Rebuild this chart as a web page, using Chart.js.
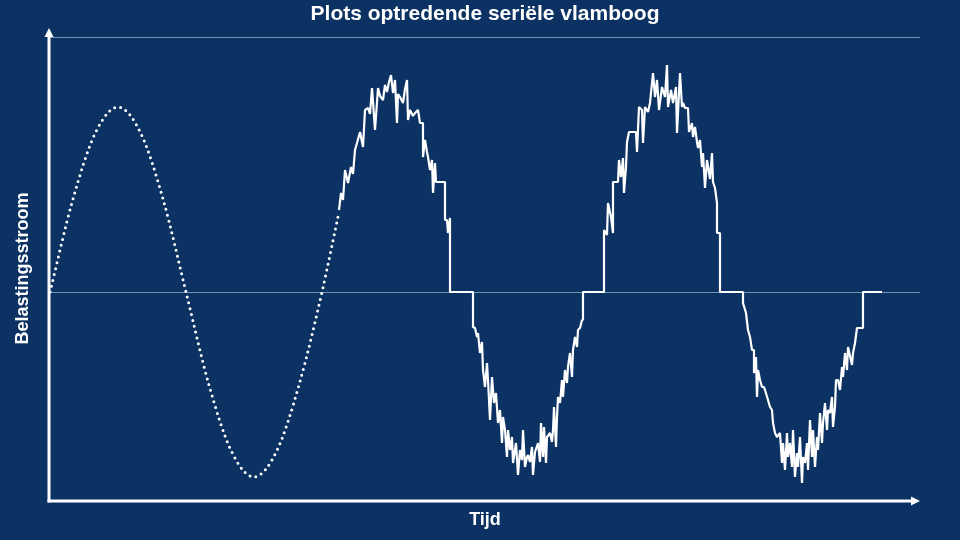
<!DOCTYPE html>
<html lang="nl">
<head>
    <meta charset="UTF-8">
    <title>Plots optredende seriële vlamboog</title>
    <script src="https://cdn.jsdelivr.net/npm/chart.js"></script>
    <style>
        body {
            margin: 0;
            background-color: #0b3262;
        }
        #wrap {
            width: 960px;
            height: 540px;
        }
    </style>
</head>
<body>
    <div id="wrap">
        <canvas id="arcChart"></canvas>
    </div>

    <script>
        // Tijd in samples vanaf de oorsprong, stroom in ruwe meetwaarden
        // Ongestoorde sinus (gestippeld) tot de vlamboog begint
        const sineTime = [
            0, 22.7, 45.3, 68, 90.7, 113.3, 136, 158.7, 181.3, 204, 226.7, 249.3,
            272, 289
        ];
        const sineCurrent = [
            0, 92, 159, 185, 159, 92, 0, -92, -159, -185, -159, -92,
            0, 80
        ];

        // Stroom met seriële vlamboog
        const arcTime = [
            // tweede periode, positief
            289, 291, 293, 295, 298, 301, 303, 305, 307, 310, 313, 315, 318, 320, 322, 325,
            328, 330, 333, 335, 337, 339, 341, 343, 345, 347, 348, 350, 353, 355, 357, 358,
            360, 363, 365, 368, 370, 373, 373, 375, 377, 378, 380, 382, 383, 385, 386, 395,
            395, 397, 398, 400, 400, 423,
            // tweede periode, negatief
            423, 425, 427, 428, 430, 432, 433, 435, 437, 438, 440, 442, 444, 446, 448, 450,
            452, 453, 455, 457, 458, 460, 462, 463, 466, 468, 470, 472, 473, 475, 477, 478,
            480, 482, 483, 485, 488, 490, 491, 493, 494, 496, 497, 500, 502, 503, 504, 506,
            507, 508, 510, 512, 513, 515, 517, 518, 520, 522, 523, 525, 527, 528, 530, 532,
            533, 533, 554,
            // derde periode, positief
            554, 557, 558, 561, 563, 563, 568, 569, 571, 573, 574, 576, 577, 579, 586, 587,
            589, 592, 593, 595, 598, 600, 603, 605, 607, 609, 612, 615, 617, 618, 621, 623,
            626, 627, 630, 632, 633, 635, 638, 639, 642, 643, 645, 647, 648, 650, 652, 653,
            655, 657, 660, 662, 663, 665, 667, 667, 670, 670, 693,
            // derde periode, negatief
            693, 696, 698, 700, 702, 704, 704, 706, 707, 708, 710, 712, 714, 715, 718, 720,
            722, 723, 725, 727, 730, 732, 733, 735, 737, 738, 740, 742, 743, 745, 747, 748,
            750, 752, 753, 755, 757, 758, 760, 762, 763, 765, 767, 768, 770, 772, 773, 775,
            777, 778, 780, 782, 783, 785, 786, 788, 790, 792, 793, 795, 797, 798, 802, 803,
            805, 807, 813, 813, 832
        ];
        const arcCurrent = [
            82, 99, 92, 122, 109, 125, 118, 142, 149, 160, 145, 182, 184, 178, 204, 162,
            204, 196, 192, 207, 200, 210, 217, 199, 212, 169, 198, 195, 189, 203, 212, 172,
            182, 176, 179, 182, 169, 169, 135, 152, 140, 135, 122, 132, 99, 129, 110, 110,
            72, 72, 59, 74, 0, 0,
            -35, -36, -45, -41, -61, -50, -78, -95, -71, -88, -128, -85, -111, -101, -131, -118,
            -151, -125, -138, -165, -138, -158, -145, -171, -151, -183, -158, -168, -138, -175, -165, -163,
            -170, -155, -183, -160, -151, -170, -131, -165, -135, -171, -145, -141, -150, -138, -115, -155,
            -125, -105, -111, -88, -105, -78, -91, -75, -61, -85, -58, -45, -55, -38, -36, -28,
            -28, 0, 0,
            62, 57, 89, 75, 59, 110, 110, 132, 115, 134, 99, 125, 150, 160, 160, 140,
            185, 182, 149, 185, 180, 189, 219, 195, 212, 182, 205, 195, 227, 185, 202, 189,
            205, 159, 219, 185, 189, 184, 184, 160, 169, 155, 165, 150, 144, 152, 125, 139,
            104, 132, 113, 139, 110, 104, 89, 59, 59, 0, 0,
            -11, -21, -38, -45, -58, -58, -81, -65, -105, -78, -88, -95, -95, -98, -108, -115,
            -118, -131, -141, -145, -141, -171, -151, -178, -141, -165, -151, -175, -138, -185, -161, -175,
            -145, -191, -165, -171, -151, -178, -128, -165, -138, -175, -145, -158, -121, -151, -131, -111,
            -138, -118, -121, -105, -135, -115, -88, -88, -98, -75, -85, -61, -78, -55, -73, -61,
            -51, -36, -36, 0, 0
        ];

        // Horizontale hulplijnen: nullijn en bovenrand
        const gridValues = [0, 255];

        const bgColor = '#0b3262';
        const fontFamily = '"Liberation Sans", Arial, sans-serif';

        function toPoints(xs, ys) {
            return xs.map((x, i) => ({ x: x, y: ys[i] }));
        }

        // Achtergrond van het hele canvas
        const backgroundPlugin = {
            id: 'background',
            beforeDraw(chart) {
                const ctx = chart.ctx;
                ctx.save();
                ctx.fillStyle = bgColor;
                ctx.fillRect(0, 0, chart.width, chart.height);
                ctx.restore();
            }
        };

        // Assen met pijlpunten
        const arrowAxesPlugin = {
            id: 'arrowAxes',
            afterDatasetsDraw(chart) {
                const { ctx, chartArea } = chart;
                const x0 = chartArea.left - 1;
                const y0 = chartArea.bottom + 1;
                ctx.save();
                ctx.strokeStyle = '#ffffff';
                ctx.fillStyle = '#ffffff';
                ctx.lineWidth = 3;

                ctx.beginPath();
                ctx.moveTo(x0, y0 + 1.5);
                ctx.lineTo(x0, chartArea.top - 1);
                ctx.stroke();
                ctx.beginPath();
                ctx.moveTo(x0, chartArea.top - 9);
                ctx.lineTo(x0 - 4.5, chartArea.top);
                ctx.lineTo(x0 + 4.5, chartArea.top);
                ctx.closePath();
                ctx.fill();

                ctx.beginPath();
                ctx.moveTo(x0 - 1.5, y0);
                ctx.lineTo(chartArea.right - 8, y0);
                ctx.stroke();
                ctx.beginPath();
                ctx.moveTo(chartArea.right, y0);
                ctx.lineTo(chartArea.right - 9, y0 - 4.5);
                ctx.lineTo(chartArea.right - 9, y0 + 4.5);
                ctx.closePath();
                ctx.fill();
                ctx.restore();
            }
        };

        const ctx = document.getElementById('arcChart').getContext('2d');
        new Chart(ctx, {
            type: 'line',
            data: {
                datasets: [
                    {
                        label: 'Sinus',
                        data: toPoints(sineTime, sineCurrent),
                        borderColor: '#ffffff',
                        borderWidth: 3,
                        borderDash: [0, 6],
                        borderCapStyle: 'round',
                        cubicInterpolationMode: 'monotone',
                        pointRadius: 0,
                        fill: false
                    },
                    {
                        label: 'Vlamboog',
                        data: toPoints(arcTime, arcCurrent),
                        borderColor: '#ffffff',
                        borderWidth: 2.2,
                        borderJoinStyle: 'bevel',
                        tension: 0,
                        pointRadius: 0,
                        fill: false
                    }
                ]
            },
            options: {
                responsive: true,
                maintainAspectRatio: false,
                animation: false,
                layout: {
                    padding: { top: 2, right: 40, bottom: 0, left: 0 }
                },
                scales: {
                    x: {
                        type: 'linear',
                        min: 0,
                        max: 870,
                        grid: { display: false, drawTicks: false },
                        border: { display: false },
                        ticks: { display: false },
                        title: {
                            display: true,
                            text: 'Tijd',
                            color: '#ffffff',
                            font: { family: fontFamily, size: 18, weight: 'bold' },
                            padding: { top: 9.2, bottom: 9.2 }
                        }
                    },
                    y: {
                        min: -208,
                        max: 255,
                        afterBuildTicks(scale) {
                            scale.ticks = gridValues.map(v => ({ value: v }));
                        },
                        grid: {
                            display: true,
                            drawTicks: false,
                            color: 'rgba(150, 180, 215, 0.75)',
                            lineWidth: 1
                        },
                        border: { display: false },
                        ticks: { display: false },
                        title: {
                            display: true,
                            text: 'Belastingsstroom',
                            color: '#ffffff',
                            font: { family: fontFamily, size: 18, weight: 'bold' },
                            padding: { top: 12.2, bottom: 16.2 }
                        }
                    }
                },
                plugins: {
                    legend: { display: false },
                    tooltip: { enabled: false },
                    title: {
                        display: true,
                        fullSize: false,
                        text: 'Plots optredende seriële vlamboog',
                        color: '#ffffff',
                        font: { family: fontFamily, size: 21, weight: 'bold' },
                        padding: { top: 0, bottom: 9.8 }
                    }
                }
            },
            plugins: [backgroundPlugin, arrowAxesPlugin]
        });
    </script>
</body>
</html>
